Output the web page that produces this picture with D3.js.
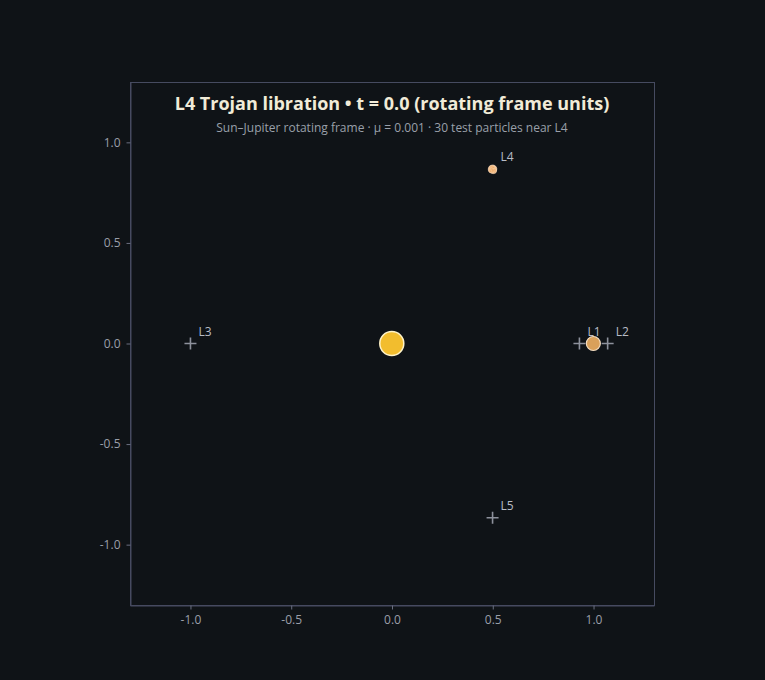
<!DOCTYPE html>
<html><head><meta charset="utf-8">
<script src="https://cdn.jsdelivr.net/npm/d3@7"></script>
<style>
html,body{margin:0;padding:0;background:#0f1317;}
svg{display:block;font-family:"Open Sans","Noto Sans",sans-serif;}
</style></head>
<body>
<svg id="c" width="765" height="680"></svg>
<script>
const title = "L4 Trojan libration • t = 0.0 (rotating frame units)";
const subtitle = "Sun–Jupiter rotating frame · μ = 0.001 · 30 test particles near L4";
const mu = 0.001;
const xTicks = [-1.0, -0.5, 0.0, 0.5, 1.0];
const yTicks = [-1.0, -0.5, 0.0, 0.5, 1.0];
const lagrangeNames = ["L1", "L2", "L3", "L4", "L5"];
const lagrangeX = [0.930, 1.070, -1.000, 0.499, 0.499];
const lagrangeY = [0.0, 0.0, 0.0, 0.866, -0.866];
const bodyNames = ["Sun", "Jupiter"];
const bodyX = [-0.001, 0.999];
const bodyY = [0.0, 0.0];
// particle offsets from L4 (rotating-frame units)
const particleDX = [0.004,-0.006,0.008,-0.003,0.001,-0.009,0.006,-0.002,0.009,-0.007,0.003,-0.005,0.007,0.000,-0.008,0.005,-0.004,0.002,-0.001,0.006,-0.006,0.008,-0.003,0.004,-0.009,0.001,0.005,-0.002,0.007,-0.005];
const particleDY = [0.003,-0.004,-0.002,0.007,-0.008,0.001,0.006,-0.005,0.002,-0.003,0.009,0.005,-0.006,0.000,0.004,-0.009,-0.001,0.008,0.005,-0.004,0.007,0.004,-0.007,-0.002,-0.003,0.003,0.001,0.009,-0.008,-0.006];

const svg = d3.select("#c");
const pL = 130, pR = 654, pT = 82, pB = 605;
const x = d3.scaleLinear().domain([-1.3, 1.3]).range([pL, pR]);
const y = d3.scaleLinear().domain([-1.3, 1.3]).range([pB, pT]);
const fmt = d => d.toFixed(1);

svg.append("rect").attr("width",765).attr("height",680).attr("fill","#0f1317");
svg.append("rect").attr("x",pL+0.5).attr("y",pT+0.5).attr("width",pR-pL).attr("height",pB-pT)
  .attr("fill","#0f1317").attr("stroke","#464b60").attr("stroke-width",1);

const xa = svg.append("g").attr("transform",`translate(0,${pB+0.5})`)
  .call(d3.axisBottom(x).tickValues(xTicks).tickFormat(fmt).tickSize(4).tickSizeOuter(0).tickPadding(6));
const ya = svg.append("g").attr("transform",`translate(${pL+0.5},0)`)
  .call(d3.axisLeft(y).tickValues(yTicks).tickFormat(fmt).tickSize(4).tickSizeOuter(0).tickPadding(6));
[xa, ya].forEach(a => {
  a.select(".domain").attr("stroke","#464b60");
  a.selectAll(".tick line").attr("stroke","#6a6f80");
  a.selectAll(".tick text").attr("fill","#9a9fa9").attr("font-size",12).attr("font-family","'Open Sans',sans-serif");
});

// Lagrange crosses
const lg = svg.append("g");
lagrangeNames.forEach((n,i) => {
  const cx = x(lagrangeX[i]), cy = y(lagrangeY[i]);
  if (n !== "L4") {
    lg.append("path").attr("d",`M${cx-6},${cy}H${cx+6}M${cx},${cy-6}V${cy+6}`)
      .attr("stroke","#8d919c").attr("stroke-width",1.6);
  }
  lg.append("text").attr("x",cx+8).attr("y",cy-8).text(n)
    .attr("fill","#b8bcc6").attr("font-size",12);
});

// Sun
svg.append("circle").attr("cx",x(bodyX[0])).attr("cy",y(bodyY[0])).attr("r",12)
  .attr("fill","#f2bd2e").attr("stroke","#fff3c8").attr("stroke-width",1.5);
// Jupiter
svg.append("circle").attr("cx",x(bodyX[1])).attr("cy",y(bodyY[1])).attr("r",7)
  .attr("fill","#d9a05a").attr("stroke","#f3dcc0").attr("stroke-width",1.2);

// particles
const pg = svg.append("g");
particleDX.forEach((dx,i) => {
  pg.append("circle").attr("cx",x(lagrangeX[3]+dx)).attr("cy",y(lagrangeY[3]+particleDY[i])).attr("r",2.6)
    .attr("fill","#f0ae6a").attr("fill-opacity",0.45).attr("stroke","#fff0dc").attr("stroke-opacity",0.4).attr("stroke-width",0.6);
});

svg.append("text").attr("x",392).attr("y",110).attr("text-anchor","middle").text(title)
  .attr("fill","#f1ebd8").attr("font-size",18).attr("font-weight","bold");
svg.append("text").attr("x",392).attr("y",132).attr("text-anchor","middle").text(subtitle)
  .attr("fill","#9aa0aa").attr("font-size",12);
</script>
</body></html>
